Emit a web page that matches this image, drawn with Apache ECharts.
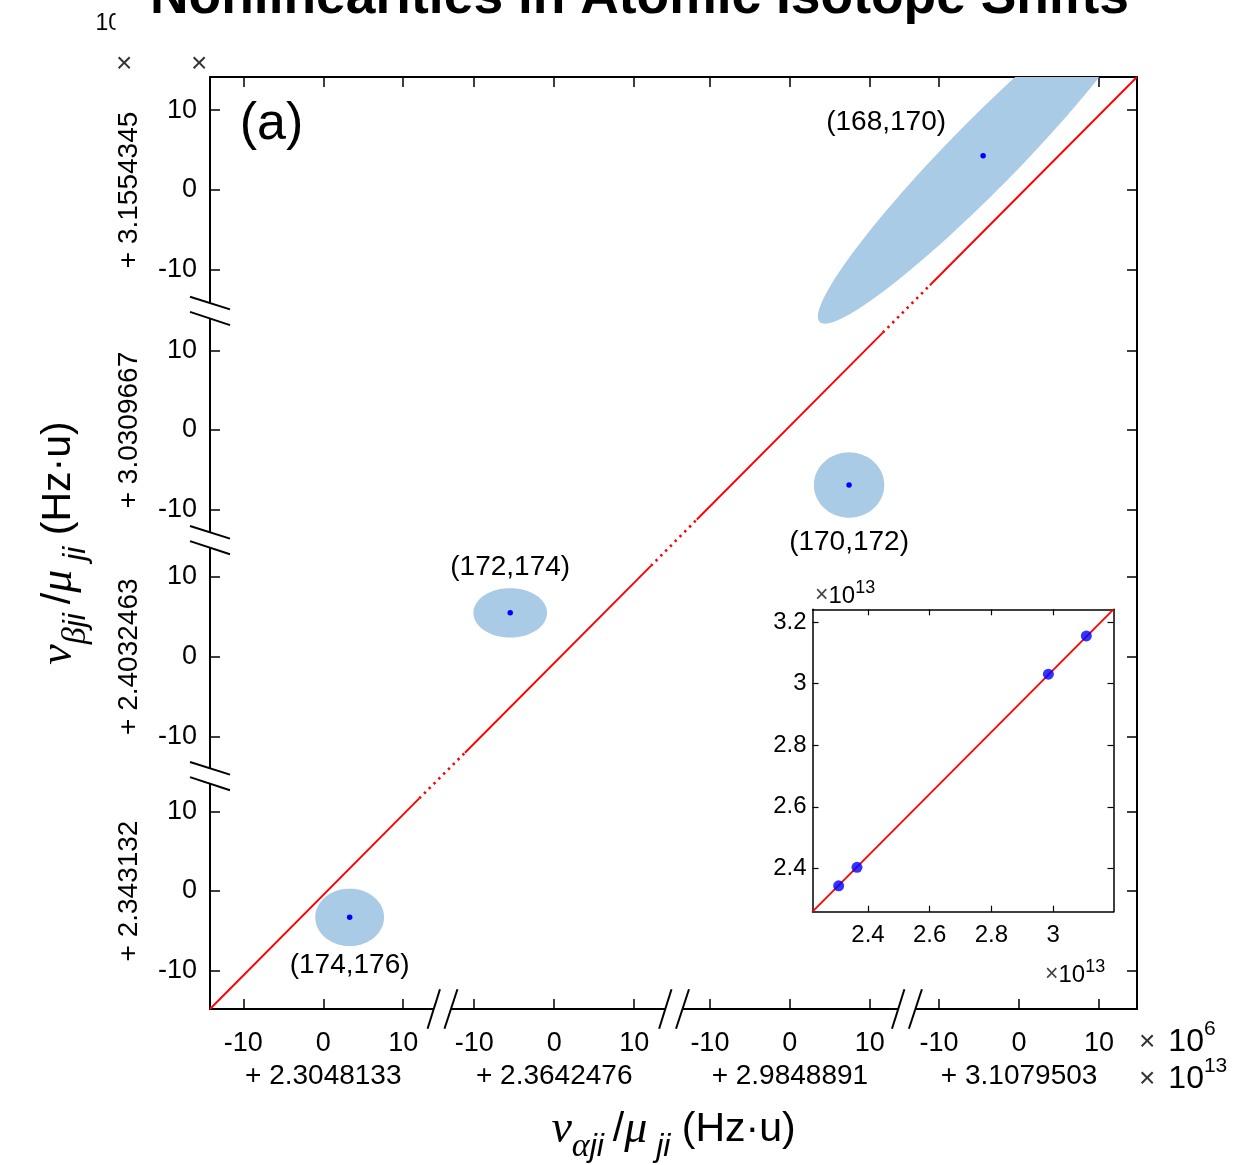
<!DOCTYPE html>
<html>
<head>
<meta charset="utf-8">
<title>Nonlinearities in Atomic Isotope Shifts</title>
<script src="https://cdn.jsdelivr.net/npm/echarts@6.0.0/dist/echarts.min.js"></script>
<style>
  html, body { margin: 0; padding: 0; background: #fff; }
  #chart { width: 1255px; height: 1165px; }
</style>
</head>
<body>
<div id="chart"></div>
<script>
// isotope pairs, one per diagonal block, bottom-left to top-right
const pairLabels = ['(174,176)', '(172,174)', '(170,172)', '(168,170)'];
// block offsets printed under the axes (x10^13 Hz·u)
const xBaseLabels = ['2.3048133', '2.3642476', '2.9848891', '3.1079503'];
const yBaseLabels = ['2.343132', '2.4032463', '3.0309667', '3.1554345'];
// points inside each block (x10^6 Hz·u from the block offset)
const xLocal = [3.3, -5.5, 7.4, -4.5];
const yLocal = [-3.3, 5.5, -6.9, 4.3];
// error ellipses: semi-axes (x10^6 Hz·u) and tilt (deg)
const ellipseA = [4.3, 4.6, 4.4, 29.2];
const ellipseB = [3.6, 3.1, 4.1, 4.3];
const ellipseTilt = [0, 0, 0, 45.6];
// fitted line, the solid piece shown inside each block (local values)
const fitX = [[-14.16, 12.0], [-11.16, 12.09], [-11.63, 11.62], [-11.16, 14.74]];
const fitY = [[-14.8, 11.62], [-12.05, 11.4], [-11.23, 12.22], [-11.96, 14.17]];
const localTicks = [-10, 0, 10];
// inset (x10^13 Hz·u)
const insetTicksX = [2.4, 2.6, 2.8, 3];
const insetTicksY = [2.4, 2.6, 2.8, 3, 3.2];
const insetLineX = [2.22, 3.196];
const insetLineY = [2.259, 3.242];

// where each block sits on the continuous drawing axis
const X_SEG = [0, 28.875, 58.34, 87.0];
const Y_SEG = [0, 29.4, 57.84, 87.96];
const X_EXT = [-14.16, 101.74];
const Y_EXT = [-14.8, 102.13];
const X_BREAKS = [14.89, 43.84, 72.96];
const Y_BREAKS = [14.43, 44.04, 72.8];

const FONT = 'Liberation Sans';
const RED = '#ff0000';
const BLUE = '#0000ff';
const ELLIPSE = '#a9cbe5';

function nearest(segs, v) {
  let k = 0;
  segs.forEach((s, i) => { if (Math.abs(v - s) < Math.abs(v - segs[k])) k = i; });
  return k;
}
const xTickVals = X_SEG.flatMap(s => localTicks.map(t => s + t));
const yTickVals = Y_SEG.flatMap(s => localTicks.map(t => s + t));

const dots = pairLabels.map((name, i) => [X_SEG[i] + xLocal[i], Y_SEG[i] + yLocal[i]]);
const ellipses = pairLabels.map((name, i) => [dots[i][0], dots[i][1], ellipseA[i], ellipseB[i], ellipseTilt[i]]);
const labelOffset = [[0, 48], [0, -46], [0, 57], [-97, -33]];

const insetX = xBaseLabels.map((b, i) => parseFloat(b) + xLocal[i] * 1e-7);
const insetY = yBaseLabels.map((b, i) => parseFloat(b) + yLocal[i] * 1e-7);

function renderEllipse(params, api) {
  const cx = api.value(0), cy = api.value(1);
  const a = api.value(2), b = api.value(3), t = api.value(4) * Math.PI / 180;
  const pts = [];
  for (let i = 0; i < 120; i++) {
    const f = i / 120 * 2 * Math.PI;
    const ex = a * Math.cos(f), ey = b * Math.sin(f);
    pts.push(api.coord([cx + ex * Math.cos(t) - ey * Math.sin(t),
                        cy + ex * Math.sin(t) + ey * Math.cos(t)]));
  }
  return { type: 'polygon', shape: { points: pts }, style: { fill: ELLIPSE } };
}

// "//" marks where the axes are cut
function renderBreak(params, api) {
  const p = api.coord([api.value(0), api.value(1)]);
  let s1, s2;
  if (api.value(2) === 0) {
    s1 = [p[0] - 8.6 - 6.2, p[1] + 19.7, p[0] - 8.6 + 6.2, p[1] - 19.7];
    s2 = [p[0] + 8.6 - 6.5, p[1] + 19.7, p[0] + 8.6 + 6.5, p[1] - 19.7];
  } else {
    s1 = [p[0] - 20, p[1] - 7.7 - 6.3, p[0] + 20, p[1] - 7.7 + 6.3];
    s2 = [p[0] - 20, p[1] + 7.7 - 6.6, p[0] + 20, p[1] + 7.7 + 6.6];
  }
  const slash = s => ({ type: 'line', shape: { x1: s[0], y1: s[1], x2: s[2], y2: s[3] },
                        style: { stroke: '#000', lineWidth: 2 } });
  return {
    type: 'group',
    children: [
      { type: 'polygon', shape: { points: [[s1[0], s1[1]], [s1[2], s1[3]], [s2[2], s2[3]], [s2[0], s2[1]]] },
        style: { fill: '#fff' } },
      slash(s1), slash(s2)
    ]
  };
}
const breakData = X_BREAKS.map(b => [b, Y_EXT[0], 0]).concat(Y_BREAKS.map(b => [X_EXT[0], b, 1]));

const axisTitleRich = {
  g: { fontFamily: 'Liberation Serif', fontStyle: 'italic', fontSize: 46, color: '#000' },
  s: { fontFamily: 'Liberation Serif', fontStyle: 'italic', fontSize: 34, color: '#000', padding: [34, 0, 0, 0] },
  j: { fontFamily: FONT, fontStyle: 'italic', fontSize: 32, color: '#000', padding: [34, 0, 0, 0] },
  t: { fontFamily: FONT, fontSize: 41, color: '#000' }
};

const line = { show: true, onZero: false, lineStyle: { color: '#000', width: 2 } };
const mainTick = vals => ({ show: true, inside: true, length: 10, customValues: vals,
                            lineStyle: { color: '#000', width: 1.5 } });
const insetLine = { show: true, onZero: false, lineStyle: { color: '#000', width: 1.5 } };
const insetTick = vals => ({ show: true, inside: true, length: 6, customValues: vals,
                             lineStyle: { color: '#000', width: 1.2 } });
const noLabel = { show: false };
const labelStyle = { color: '#000', fontFamily: FONT, fontSize: 27 };
const baseLabelStyle = { color: '#000', fontFamily: FONT, fontSize: 28 };

const chart = echarts.init(document.getElementById('chart'), null, { renderer: 'canvas' });

const option = {
  animation: false,
  backgroundColor: '#fff',
  grid: [
    { left: 210, top: 77, width: 927, height: 932, containLabel: false, outerBoundsMode: 'none' },
    { left: 812.5, top: 609.3, width: 301, height: 302.4, containLabel: false, outerBoundsMode: 'none',
      show: true, backgroundColor: '#fff', borderWidth: 0 }
  ],
  xAxis: [
    {
      type: 'value', gridIndex: 0, position: 'bottom', min: X_EXT[0], max: X_EXT[1],
      axisLine: line, axisTick: mainTick(xTickVals), splitLine: { show: false },
      axisLabel: Object.assign({ customValues: xTickVals, margin: 21,
        formatter: v => String(Math.round(v - X_SEG[nearest(X_SEG, v)])) }, labelStyle),
      name: '{g|ν}{s|α}{j|ji }{t|/}{g|μ}{j| ji}{t| (Hz·u)}',
      nameLocation: 'middle', nameGap: 87, nameMoveOverlap: false,
      nameTextStyle: { rich: axisTitleRich }
    },
    {
      type: 'value', gridIndex: 0, position: 'bottom', offset: 46, min: X_EXT[0], max: X_EXT[1],
      axisLine: { show: false }, axisTick: { show: false }, splitLine: { show: false },
      axisLabel: Object.assign({ customValues: X_SEG, margin: 7,
        formatter: v => '+ ' + xBaseLabels[nearest(X_SEG, v)] }, baseLabelStyle)
    },
    {
      type: 'value', gridIndex: 0, position: 'top', min: X_EXT[0], max: X_EXT[1],
      axisLine: line, axisTick: mainTick(xTickVals), axisLabel: noLabel, splitLine: { show: false }
    },
    {
      type: 'value', gridIndex: 1, position: 'bottom', min: 2.22, max: 3.196,
      axisLine: insetLine, axisTick: insetTick(insetTicksX), splitLine: { show: false },
      axisLabel: { customValues: insetTicksX, margin: 11.5, color: '#000', fontFamily: FONT, fontSize: 24 }
    },
    {
      type: 'value', gridIndex: 1, position: 'top', min: 2.22, max: 3.196,
      axisLine: insetLine, axisTick: insetTick(insetTicksX), axisLabel: noLabel, splitLine: { show: false }
    }
  ],
  yAxis: [
    {
      type: 'value', gridIndex: 0, position: 'left', min: Y_EXT[0], max: Y_EXT[1],
      axisLine: line, axisTick: mainTick(yTickVals), splitLine: { show: false },
      axisLabel: Object.assign({ customValues: yTickVals, margin: 13,
        formatter: v => String(Math.round(v - Y_SEG[nearest(Y_SEG, v)])) }, labelStyle),
      name: '{g|ν}{s|β}{j|ji }{t|/}{g|μ}{j| ji}{t| (Hz·u)}',
      nameLocation: 'middle', nameRotate: 90, nameGap: 117, nameMoveOverlap: false,
      nameTextStyle: { rich: axisTitleRich }
    },
    {
      type: 'value', gridIndex: 0, position: 'left', offset: 60, min: Y_EXT[0], max: Y_EXT[1],
      axisLine: { show: false }, axisTick: { show: false }, splitLine: { show: false },
      axisLabel: Object.assign({ customValues: Y_SEG, margin: 7, rotate: 90,
        formatter: v => '+ ' + yBaseLabels[nearest(Y_SEG, v)] }, baseLabelStyle)
    },
    {
      type: 'value', gridIndex: 0, position: 'right', min: Y_EXT[0], max: Y_EXT[1],
      axisLine: line, axisTick: mainTick(yTickVals), axisLabel: noLabel, splitLine: { show: false }
    },
    {
      type: 'value', gridIndex: 1, position: 'left', min: insetLineY[0], max: insetLineY[1],
      axisLine: insetLine, axisTick: insetTick(insetTicksY), splitLine: { show: false },
      axisLabel: { customValues: insetTicksY, margin: 6, color: '#000', fontFamily: FONT, fontSize: 24 }
    },
    {
      type: 'value', gridIndex: 1, position: 'right', min: insetLineY[0], max: insetLineY[1],
      axisLine: insetLine, axisTick: insetTick(insetTicksY), axisLabel: noLabel, splitLine: { show: false }
    }
  ],
  series: [
    {
      type: 'custom', name: 'ellipses', xAxisIndex: 0, yAxisIndex: 0, clip: true, z: 1, silent: true,
      renderItem: renderEllipse, data: ellipses
    },
    ...fitX.map((xs, i) => ({
      type: 'line', xAxisIndex: 0, yAxisIndex: 0, symbol: 'none', silent: true, z: 3,
      lineStyle: { color: RED, width: 1.9 },
      data: [[X_SEG[i] + xs[0], Y_SEG[i] + fitY[i][0]], [X_SEG[i] + xs[1], Y_SEG[i] + fitY[i][1]]]
    })),
    ...fitX.slice(0, 3).map((xs, i) => ({
      type: 'line', xAxisIndex: 0, yAxisIndex: 0, symbol: 'none', silent: true, z: 3,
      lineStyle: { color: RED, width: 2.6, type: [2.4, 4.4] },
      data: [[X_SEG[i] + xs[1], Y_SEG[i] + fitY[i][1]],
             [X_SEG[i + 1] + fitX[i + 1][0], Y_SEG[i + 1] + fitY[i + 1][0]]]
    })),
    {
      type: 'scatter', name: 'pairs', xAxisIndex: 0, yAxisIndex: 0, symbolSize: 5.5, z: 4, silent: true,
      itemStyle: { color: BLUE, borderWidth: 0, opacity: 1 },
      label: { show: true, position: 'inside', color: '#000', fontFamily: FONT, fontSize: 28,
               textBorderWidth: 0, opacity: 1 },
      data: dots.map((d, i) => ({
        value: d, name: pairLabels[i],
        label: { offset: labelOffset[i], formatter: pairLabels[i], color: '#000' }
      }))
    },
    {
      type: 'custom', name: 'breaks', xAxisIndex: 0, yAxisIndex: 0, clip: false, z: 6, silent: true,
      renderItem: renderBreak, data: breakData
    },
    {
      type: 'line', xAxisIndex: 3, yAxisIndex: 3, symbol: 'none', silent: true, z: 3,
      lineStyle: { color: RED, width: 1.8 },
      data: [[insetLineX[0], insetLineY[0]], [insetLineX[1], insetLineY[1]]]
    },
    {
      type: 'scatter', xAxisIndex: 3, yAxisIndex: 3, symbolSize: 11, z: 4, silent: true,
      itemStyle: { color: BLUE, borderWidth: 0 },
      data: insetX.map((x, i) => [x, insetY[i]])
    }
  ],
  graphic: [
    { type: 'text', x: 639.5, y: -1.5, z: 10,
      style: { text: 'Nonlinearities in Atomic Isotope Shifts', font: 'bold 53.4px "Liberation Sans"',
               fill: '#000', textAlign: 'center', textVerticalAlign: 'middle' } },
    { type: 'text', x: 95.5, y: 23.7, z: 10,
      style: { text: '10', font: '23px "Liberation Sans"', fill: '#000', textAlign: 'left', textVerticalAlign: 'middle' } },
    { type: 'rect', z: 11, shape: { x: 115.5, y: 8, width: 14, height: 30 }, style: { fill: '#fff' } },
    { type: 'text', x: 124.2, y: 64.5, z: 10,
      style: { text: '×', font: '28px "Liberation Sans"', fill: '#333', textAlign: 'center', textVerticalAlign: 'middle' } },
    { type: 'text', x: 199.2, y: 64.5, z: 10,
      style: { text: '×', font: '28px "Liberation Sans"', fill: '#333', textAlign: 'center', textVerticalAlign: 'middle' } },
    { type: 'text', x: 271.5, y: 124.5, z: 10,
      style: { text: '(a)', font: '52px "Liberation Sans"', fill: '#000', textAlign: 'center', textVerticalAlign: 'middle' } },
    { type: 'text', x: 1139, y: 1042, z: 10,
      style: { text: '{x|×}{n|10}{p|6}', textAlign: 'left', textVerticalAlign: 'middle',
               rich: { x: { font: '28px "Liberation Sans"', fill: '#333', padding: [0, 13, 0, 0] },
                       n: { font: '32px "Liberation Sans"', fill: '#000' },
                       p: { font: '21px "Liberation Sans"', fill: '#000', padding: [0, 0, 26, 0] } } } },
    { type: 'text', x: 1139, y: 1079, z: 10,
      style: { text: '{x|×}{n|10}{p|13}', textAlign: 'left', textVerticalAlign: 'middle',
               rich: { x: { font: '28px "Liberation Sans"', fill: '#333', padding: [0, 13, 0, 0] },
                       n: { font: '32px "Liberation Sans"', fill: '#000' },
                       p: { font: '21px "Liberation Sans"', fill: '#000', padding: [0, 0, 26, 0] } } } },
    { type: 'text', x: 815, y: 596, z: 10,
      style: { text: '{x|×}{n|10}{p|13}', textAlign: 'left', textVerticalAlign: 'middle',
               rich: { x: { font: '23px "Liberation Sans"', fill: '#444' },
                       n: { font: '24px "Liberation Sans"', fill: '#000' },
                       p: { font: '18px "Liberation Sans"', fill: '#000', padding: [0, 0, 16, 0] } } } },
    { type: 'text', x: 1045, y: 975, z: 10,
      style: { text: '{x|×}{n|10}{p|13}', textAlign: 'left', textVerticalAlign: 'middle',
               rich: { x: { font: '23px "Liberation Sans"', fill: '#444' },
                       n: { font: '24px "Liberation Sans"', fill: '#000' },
                       p: { font: '18px "Liberation Sans"', fill: '#000', padding: [0, 0, 16, 0] } } } }
  ]
};

chart.setOption(option);
</script>
</body>
</html>
